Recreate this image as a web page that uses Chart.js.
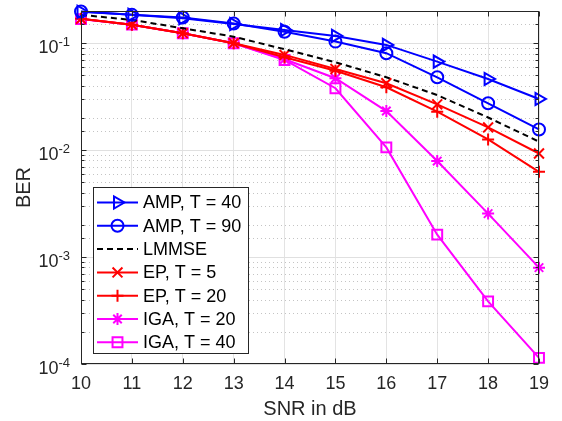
<!DOCTYPE html>
<html>
<head>
<meta charset="utf-8">
<title>BER vs SNR</title>
<script src="https://cdn.jsdelivr.net/npm/chart.js@4/dist/chart.umd.min.js"></script>
<style>
  html, body { margin: 0; padding: 0; background: #fff; }
</style>
</head>
<body>
<canvas id="berChart" width="562" height="421"></canvas>
<script>
// SNR points (dB) and bit error rates for each detector
var snrDb = [10, 11, 12, 13, 14, 15, 16, 17, 18, 19];
var ampT40 = [0.197, 0.184, 0.171, 0.151, 0.133, 0.117, 0.0964, 0.0673, 0.0463, 0.0301];
var ampT90 = [0.198, 0.184, 0.174, 0.153, 0.128, 0.1035, 0.0806, 0.048, 0.0274, 0.0156];
var lmmse = [0.184, 0.165, 0.138, 0.115, 0.0878, 0.0664, 0.048, 0.0327, 0.0202, 0.0120];
var epT5 = [0.169, 0.149, 0.124, 0.100, 0.0777, 0.0574, 0.0422, 0.0268, 0.0163, 0.0093];
var epT20 = [0.169, 0.149, 0.124, 0.100, 0.0740, 0.0553, 0.0387, 0.0229, 0.0126, 0.00627];
var igaT20 = [0.168, 0.149, 0.124, 0.100, 0.0708, 0.0470, 0.0232, 0.0079, 0.00255, 0.000796];
var igaT40 = [0.168, 0.149, 0.124, 0.100, 0.0697, 0.0379, 0.0106, 0.00162, 0.000385, 0.000114];
var seriesNames = ['AMP, T = 40', 'AMP, T = 90', 'LMMSE', 'EP, T = 5', 'EP, T = 20', 'IGA, T = 20', 'IGA, T = 40'];
var yDecades = [-4, -3, -2, -1];

var FONT = '"Liberation Sans", Arial, Helvetica, sans-serif';
var TEXT = '#262626';
var BLUE = '#0000ff', RED = '#ff0000', MAG = '#ff00ff';

function pts(vals) {
  return vals.map(function (v, i) { return { x: snrDb[i], y: v }; });
}

function series(label, vals, color, style, radius, dash) {
  return {
    label: label,
    data: pts(vals),
    borderColor: color,
    backgroundColor: color,
    borderWidth: 2,
    borderDash: dash || [],
    pointStyle: style,
    pointRadius: style ? radius : 0,
    pointRotation: style === 'triangle' ? 90 : 0,
    pointBorderColor: color,
    pointBackgroundColor: 'rgba(0,0,0,0)',
    pointBorderWidth: 2,
    tension: 0,
    clip: false
  };
}

var datasets = [
  series(seriesNames[0], ampT40, BLUE, 'triangle', 7),
  series(seriesNames[1], ampT90, BLUE, 'circle', 6),
  series(seriesNames[2], lmmse, '#000000', false, 0, [6, 4]),
  series(seriesNames[3], epT5, RED, 'crossRot', 7),
  series(seriesNames[4], epT20, RED, 'cross', 6),
  series(seriesNames[5], igaT20, MAG, 'star', 6),
  series(seriesNames[6], igaT40, MAG, 'rect', 7)
];

function marker(ctx, ds, x, y) {
  if (!ds.pointStyle) return;
  ctx.save();
  ctx.strokeStyle = ds.pointBorderColor;
  ctx.fillStyle = 'rgba(0,0,0,0)';
  ctx.lineWidth = ds.pointBorderWidth;
  ctx.setLineDash([]);
  Chart.helpers.drawPoint(ctx, {
    pointStyle: ds.pointStyle,
    rotation: ds.pointRotation,
    radius: ds.pointRadius,
    borderWidth: ds.pointBorderWidth
  }, x, y);
  ctx.restore();
}

// grid, box, inward ticks, exponent labels and legend
var matlabAxes = {
  id: 'matlabAxes',
  beforeDatasetsDraw: function (chart) {
    var ctx = chart.ctx, a = chart.chartArea, ys = chart.scales.y;
    ctx.save();
    ys.ticks.forEach(function (t) {
      var py = Math.round(ys.getPixelForValue(t.value)) + 0.5;
      var major = Math.abs(Math.log10(t.value) - Math.round(Math.log10(t.value))) < 1e-6;
      ctx.beginPath();
      ctx.lineWidth = 1;
      if (major) {
        ctx.setLineDash([]);
        ctx.strokeStyle = '#e0e0e0';
      } else {
        ctx.setLineDash([1, 3]);
        ctx.strokeStyle = '#c4c4c4';
      }
      ctx.moveTo(a.left, py);
      ctx.lineTo(a.right, py);
      ctx.stroke();
    });
    ctx.restore();
  },
  afterDatasetsDraw: function (chart) {
    var ctx = chart.ctx, a = chart.chartArea, ys = chart.scales.y, xs = chart.scales.x;
    ctx.save();
    ctx.strokeStyle = TEXT;
    ctx.lineWidth = 1;
    ctx.setLineDash([]);
    var L = Math.round(a.left) + 0.5, R = Math.round(a.right) - 0.5;
    var T = Math.round(a.top) + 0.5, B = Math.round(a.bottom) - 0.5;
    ctx.strokeRect(L, T, R - L, B - T);
    ctx.beginPath();
    xs.ticks.forEach(function (t) {
      var px = Math.round(xs.getPixelForValue(t.value)) + 0.5;
      ctx.moveTo(px, B); ctx.lineTo(px, B - 5);
      ctx.moveTo(px, T); ctx.lineTo(px, T + 5);
    });
    ys.ticks.forEach(function (t) {
      var py = Math.round(ys.getPixelForValue(t.value)) + 0.5;
      var major = Math.abs(Math.log10(t.value) - Math.round(Math.log10(t.value))) < 1e-6;
      var len = major ? 5 : 3;
      ctx.moveTo(L, py); ctx.lineTo(L + len, py);
      ctx.moveTo(R, py); ctx.lineTo(R - len, py);
    });
    ctx.stroke();

    // 10^n labels on the y axis
    ctx.fillStyle = TEXT;
    ctx.textBaseline = 'middle';
    ctx.textAlign = 'left';
    yDecades.forEach(function (e) {
      var py = ys.getPixelForValue(Math.pow(10, e));
      var sup = '-' + Math.abs(e);
      ctx.font = '18px ' + FONT;
      var wb = ctx.measureText('10').width;
      ctx.font = '13px ' + FONT;
      var ws = ctx.measureText(sup).width;
      var x0 = 70 - wb - ws;
      ctx.font = '18px ' + FONT;
      ctx.fillText('10', x0, py + 5);
      ctx.font = '13px ' + FONT;
      ctx.fillText(sup, x0 + wb, py - 1);
    });
    ctx.restore();
  },
  afterDraw: function (chart) {
    var ctx = chart.ctx;
    var bx = 93, by = 187, bw = 155, bh = 166;
    ctx.save();
    ctx.fillStyle = '#ffffff';
    ctx.fillRect(bx, by, bw, bh);
    ctx.strokeStyle = TEXT;
    ctx.lineWidth = 1;
    ctx.strokeRect(bx + 0.5, by + 0.5, bw, bh);
    chart.data.datasets.forEach(function (ds, i) {
      var ry = 202.5 + i * 23.3;
      ctx.beginPath();
      ctx.strokeStyle = ds.borderColor;
      ctx.lineWidth = 2;
      ctx.setLineDash(ds.borderDash);
      ctx.moveTo(97, ry);
      ctx.lineTo(138, ry);
      ctx.stroke();
      marker(ctx, ds, 117.5, ry);
      ctx.fillStyle = '#000000';
      ctx.font = '18px ' + FONT;
      ctx.textAlign = 'left';
      ctx.textBaseline = 'middle';
      ctx.fillText(ds.label, 143, ry + 1);
    });
    ctx.restore();
  }
};

new Chart(document.getElementById('berChart').getContext('2d'), {
  type: 'line',
  data: { datasets: datasets },
  options: {
    responsive: false,
    animation: false,
    devicePixelRatio: 1,
    layout: { padding: { left: 0, right: 23, top: 11, bottom: 0 } },
    plugins: { legend: { display: false }, tooltip: { enabled: false } },
    scales: {
      x: {
        type: 'linear',
        min: 10,
        max: 19,
        afterFit: function (s) { s.height = 57; },
        border: { display: false },
        grid: { color: '#e3e3e3', drawTicks: false },
        ticks: { stepSize: 1, color: TEXT, padding: 9, font: { family: FONT, size: 18 } },
        title: { display: true, text: 'SNR in dB', color: TEXT, padding: { top: 0, bottom: 0 }, font: { family: FONT, size: 20 } }
      },
      y: {
        type: 'logarithmic',
        min: 1e-4,
        max: 0.2,
        afterFit: function (s) { s.width = 81; },
        border: { display: false },
        grid: { display: false },
        ticks: { display: false },
        title: { display: true, text: 'BER', color: TEXT, padding: { top: 12, bottom: 0 }, font: { family: FONT, size: 20 } }
      }
    }
  },
  plugins: [matlabAxes]
});
</script>
</body>
</html>
